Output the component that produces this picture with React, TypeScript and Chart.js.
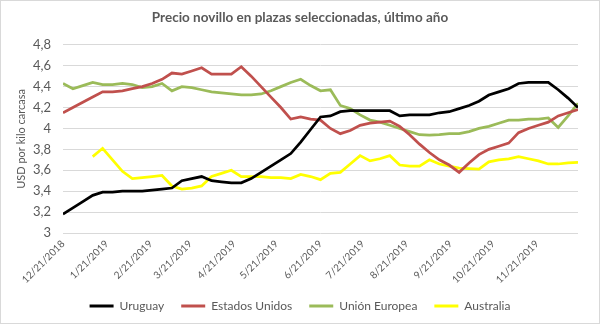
import React, { useEffect, useRef } from 'react';
import Chart from 'chart.js/auto';

const chartTitle = 'Precio novillo en plazas seleccionadas, último año';
const yAxisTitle = 'USD por kilo carcasa';
const seriesNames = ['Uruguay', 'Estados Unidos', 'Unión Europea', 'Australia'];
const seriesColors = ['#000000', '#C0504D', '#9BBB59', '#FFFF00'];
const firstWeek = '12/21/2018';
const xTickLabels = [
  '12/21/2018', '1/21/2019', '2/21/2019', '3/21/2019', '4/21/2019', '5/21/2019',
  '6/21/2019', '7/21/2019', '8/21/2019', '9/21/2019', '10/21/2019', '11/21/2019',
];
const yMin = 3;
const yMax = 4.8;
const yStep = 0.2;

const uruguay = [
  3.18, 3.24, 3.30, 3.36, 3.39, 3.39, 3.40, 3.40, 3.40, 3.41, 3.42, 3.43, 3.50,
  3.52, 3.54, 3.50, 3.49, 3.48, 3.48, 3.52, 3.58, 3.64, 3.70, 3.76, 3.87, 3.99,
  4.11, 4.12, 4.16, 4.17, 4.17, 4.17, 4.17, 4.17, 4.12, 4.13, 4.13, 4.13, 4.15,
  4.16, 4.19, 4.22, 4.26, 4.32, 4.35, 4.38, 4.43, 4.44, 4.44, 4.44, 4.37, 4.29, 4.20,
];
const estadosUnidos = [
  4.15, 4.20, 4.25, 4.30, 4.35, 4.35, 4.36, 4.38, 4.40, 4.43, 4.47, 4.53, 4.52,
  4.55, 4.58, 4.52, 4.52, 4.52, 4.59, 4.50, 4.40, 4.30, 4.20, 4.09, 4.11, 4.09,
  4.08, 4.00, 3.95, 3.98, 4.03, 4.05, 4.06, 4.07, 4.02, 3.94, 3.85, 3.77, 3.70,
  3.65, 3.58, 3.67, 3.75, 3.80, 3.83, 3.86, 3.96, 4.00, 4.03, 4.06, 4.12, 4.15, 4.18,
];
const unionEuropea = [
  4.43, 4.38, 4.41, 4.44, 4.42, 4.42, 4.43, 4.42, 4.39, 4.40, 4.43, 4.36, 4.40,
  4.39, 4.37, 4.35, 4.34, 4.33, 4.32, 4.32, 4.33, 4.36, 4.40, 4.44, 4.47, 4.41,
  4.36, 4.37, 4.22, 4.19, 4.13, 4.08, 4.06, 4.03, 4.00, 3.97, 3.94, 3.935, 3.94,
  3.95, 3.95, 3.97, 4.00, 4.02, 4.05, 4.08, 4.08, 4.09, 4.09, 4.10, 4.01, 4.12, 4.24,
];
const australia = [
  null, null, null, 3.73, 3.81, 3.70, 3.59, 3.52, 3.53, 3.54, 3.55, 3.45, 3.42,
  3.43, 3.45, 3.54, 3.57, 3.60, 3.54, 3.54, 3.54, 3.53, 3.53, 3.52, 3.56, 3.54,
  3.51, 3.57, 3.58, 3.66, 3.74, 3.69, 3.71, 3.74, 3.65, 3.64, 3.64, 3.70, 3.66,
  3.64, 3.62, 3.615, 3.61, 3.68, 3.70, 3.71, 3.73, 3.71, 3.69, 3.66, 3.66, 3.67, 3.675,
];
const seriesValues = [uruguay, estadosUnidos, unionEuropea, australia];

function parseUS(label: string): number {
  const [m, d, y] = label.split('/').map(Number);
  return Date.UTC(y, m - 1, d);
}
function dayOffset(label: string): number {
  return Math.round((parseUS(label) - parseUS(firstWeek)) / 86400000);
}

export default function App() {
  const canvasRef = useRef<HTMLCanvasElement | null>(null);

  useEffect(() => {
    if (!canvasRef.current) return;
    const FONT = 'Lato, "Open Sans", sans-serif';
    const GRAY = '#595959';
    const tickDays = xTickLabels.map(dayOffset);
    const lastDay = (uruguay.length - 1) * 7;

    const datasets = seriesNames.map((name, s) => ({
      label: name,
      data: seriesValues[s].map((v, i) => ({ x: i * 7, y: v })),
      borderColor: seriesColors[s],
      backgroundColor: seriesColors[s],
      borderWidth: 2.75,
      pointRadius: 0,
      pointHoverRadius: 0,
      tension: 0,
      fill: false,
      spanGaps: false,
    }));

    const chart = new Chart(canvasRef.current, {
      type: 'line',
      data: { datasets },
      options: {
        animation: false,
        responsive: true,
        maintainAspectRatio: false,
        layout: { padding: { left: 21, right: 21, top: 0, bottom: 1 } },
        plugins: {
          title: {
            display: true,
            text: chartTitle,
            color: GRAY,
            font: { family: FONT, size: 13.5, weight: 'bold' },
            padding: { top: 9, bottom: 18.6 },
          },
          legend: {
            position: 'bottom',
            labels: {
              color: GRAY,
              font: { family: FONT, size: 12 },
              boxWidth: 24,
              boxHeight: 3,
              padding: 17,
              generateLabels: (c: any) =>
                Chart.defaults.plugins.legend.labels.generateLabels(c).map((l: any) => ({
                  ...l,
                  lineWidth: 0,
                  strokeStyle: 'transparent',
                })),
            },
          },
          tooltip: { enabled: false },
        },
        scales: {
          x: {
            type: 'linear',
            min: 0,
            max: lastDay,
            grid: { display: false, drawTicks: false },
            border: { display: false },
            afterBuildTicks: (scale: any) => {
              scale.ticks = tickDays.map((v) => ({ value: v }));
            },
            afterFit: (scale: any) => {
              scale.height = 50;
            },
            ticks: {
              autoSkip: false,
              maxRotation: 45,
              minRotation: 45,
              padding: 5,
              color: GRAY,
              font: { family: FONT, size: 10 },
              callback: (value: any) => {
                const idx = tickDays.indexOf(Number(value));
                return idx >= 0 ? xTickLabels[idx] : '';
              },
            },
          },
          y: {
            min: yMin,
            max: yMax,
            grid: { color: '#D9D9D9', drawTicks: false, lineWidth: 1 },
            border: { display: false },
            afterFit: (scale: any) => {
              scale.width = 41;
            },
            title: {
              display: true,
              text: yAxisTitle,
              color: GRAY,
              font: { family: FONT, size: 11 },
              padding: { top: -7, bottom: 0 },
            },
            ticks: {
              stepSize: yStep,
              padding: 12,
              color: GRAY,
              font: { family: FONT, size: 13 },
              callback: (value: any) =>
                (Math.round(Number(value) * 10) / 10).toString().replace('.', ','),
            },
          },
        },
      },
    });
    return () => chart.destroy();
  }, []);

  return (
    <div
      style={{
        position: 'fixed',
        left: 0,
        top: 0,
        width: 600,
        height: 324,
        boxSizing: 'border-box',
        border: '1px solid #D9D9D9',
        background: '#ffffff',
      }}
    >
      <canvas ref={canvasRef} />
    </div>
  );
}
